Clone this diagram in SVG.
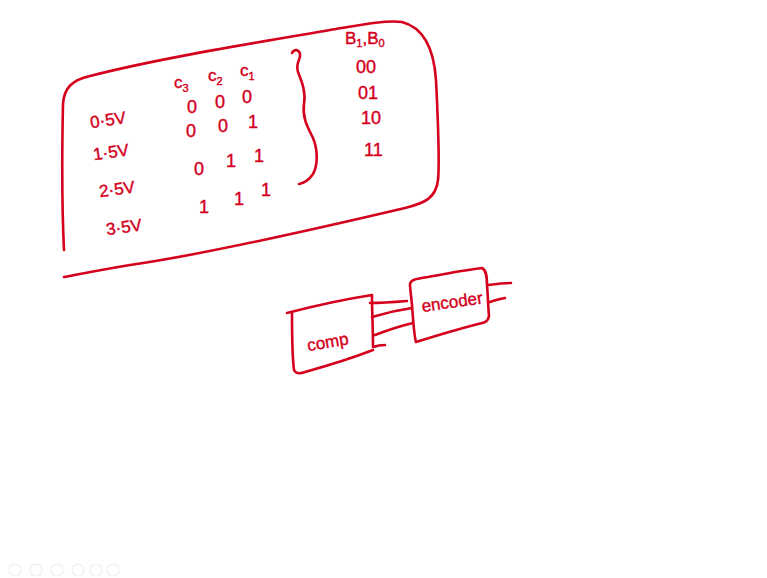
<svg xmlns="http://www.w3.org/2000/svg" width="767" height="578" viewBox="0 0 767 578">
  <style>
    .ink { fill: none; stroke: #d4001c; stroke-width: 2.6; stroke-linecap: round; stroke-linejoin: round; }
    .hand { fill: #d4001c; stroke: #d4001c; stroke-width: 0.4; font-family: "Liberation Sans", "DejaVu Sans", sans-serif; font-size: 17px; }
    .bit { fill: #d4001c; stroke: #d4001c; stroke-width: 0.4; font-family: "Liberation Sans", "DejaVu Sans", sans-serif; font-size: 18px; }
    .sub { font-size: 11px; }
    .ctl { fill: none; stroke: #eeeeee; stroke-width: 1.2; }
  </style>
  <rect width="767" height="578" fill="#ffffff"/>

  <!-- truth table panel -->
  <g id="table">
    <path class="ink" d="M64,250 C62,210 62,150 63,104 C64,88 72,80 90,76 C160,58 260,42 330,30 C360,25 385,20 402,22 C425,28 434,50 436,80 C438,120 440,160 438,180 C436,198 425,203 405,208 C320,228 200,255 130,265 C100,270 80,274 64,277"/>

    <!-- input voltage levels -->
    <text class="hand" x="90" y="126" transform="rotate(-8 106 120)">0·5V</text>
    <text class="hand" x="93" y="158" transform="rotate(-8 110 152)">1·5V</text>
    <text class="hand" x="99" y="195" transform="rotate(-8 116 189)">2·5V</text>
    <text class="hand" x="106" y="233" transform="rotate(-8 123 227)">3·5V</text>

    <!-- comparator outputs -->
    <text class="hand" x="174" y="88">c<tspan class="sub" dy="4">3</tspan></text>
    <text class="hand" x="208" y="81">c<tspan class="sub" dy="4">2</tspan></text>
    <text class="hand" x="240" y="76">c<tspan class="sub" dy="4">1</tspan></text>

    <text class="bit" x="187" y="113">0</text>
    <text class="bit" x="215" y="108">0</text>
    <text class="bit" x="242" y="103">0</text>

    <text class="bit" x="186" y="137">0</text>
    <text class="bit" x="218" y="132">0</text>
    <text class="bit" x="248" y="128">1</text>

    <text class="bit" x="194" y="175">0</text>
    <text class="bit" x="226" y="167">1</text>
    <text class="bit" x="254" y="162">1</text>

    <text class="bit" x="199" y="213">1</text>
    <text class="bit" x="234" y="205">1</text>
    <text class="bit" x="261" y="196">1</text>

    <!-- grouping brace -->
    <path class="ink" d="M292,53 C294,49 299,49 300,54 C301,60 295,63 298,72 C302,82 306,92 304,104 C302,118 308,128 313,138 C318,150 318,165 313,174 C309,180 304,183 299,184"/>

    <!-- encoder outputs -->
    <text class="hand" x="345" y="44" font-size="13">B<tspan class="sub" dy="3">1</tspan><tspan dy="-3">,B</tspan><tspan class="sub" dy="3">0</tspan></text>
    <text class="bit" x="356" y="73">00</text>
    <text class="bit" x="358" y="99">01</text>
    <text class="bit" x="361" y="124">10</text>
    <text class="bit" x="364" y="156">11</text>
  </g>

  <!-- comparator block -->
  <g id="comp">
    <path class="ink" d="M287,313 C310,307 340,300 372,295 C372,310 373,330 373,347 C376,346 381,345 385,345"/>
    <path class="ink" d="M292,313 C292,330 292,355 294,370 C296,374 300,374 305,372 C330,365 355,357 373,350"/>
    <text class="hand" x="306" y="347" font-size="20" transform="rotate(-10 332 336)">comp</text>
  </g>

  <!-- encoder block -->
  <g id="encoder">
    <path class="ink" d="M410,284 C411,280 414,279 428,277 C445,274 465,270 482,268 C486,270 487,275 487,285 C488,296 488,306 489,316 C488,322 484,323 478,324 C455,330 432,337 416,342 C414,335 413,320 412,305 C411,295 410,288 410,284"/>
    <text class="hand" x="421" y="308" font-size="16" transform="rotate(-8 450 300)">encoder</text>
  </g>

  <!-- signal lines -->
  <g id="connectors">
    <path class="ink" d="M370,303 C382,303 395,302 407,301"/>
    <path class="ink" d="M372,317 C385,313 398,310 412,308"/>
    <path class="ink" d="M375,335 C388,330 400,326 413,323"/>
    <path class="ink" d="M488,285 C496,284 504,283 511,283"/>
    <path class="ink" d="M490,302 C495,300 500,299 505,298"/>
  </g>

  <!-- player controls -->
  <g id="controls">
    <circle class="ctl" cx="15" cy="570" r="6"/>
    <circle class="ctl" cx="36" cy="570" r="6"/>
    <circle class="ctl" cx="57" cy="570" r="6"/>
    <circle class="ctl" cx="78" cy="570" r="6"/>
    <circle class="ctl" cx="96" cy="570" r="6"/>
    <circle class="ctl" cx="113" cy="570" r="6"/>
  </g>
</svg>
